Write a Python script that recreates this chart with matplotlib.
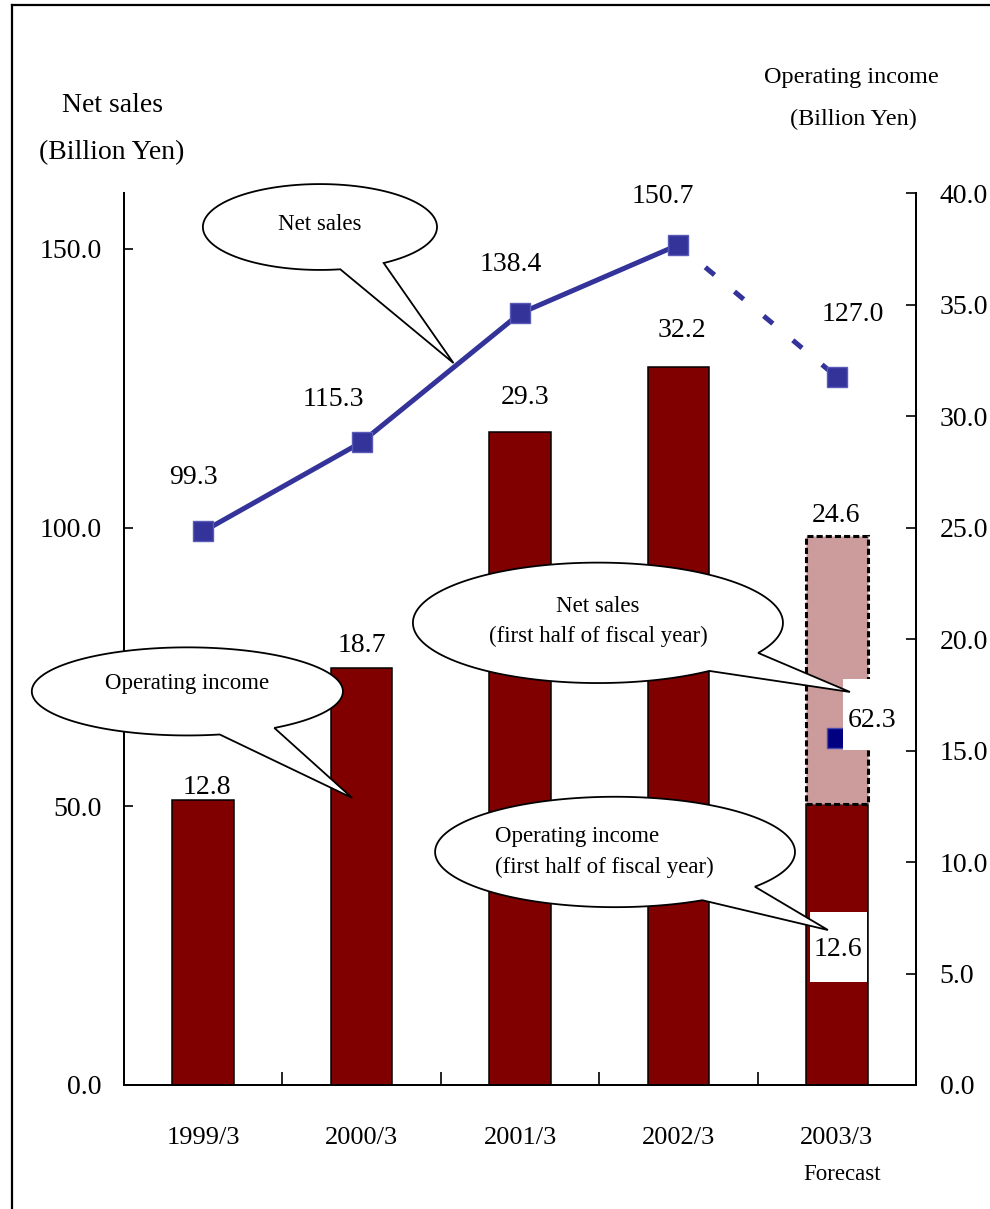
import numpy as np
import matplotlib
matplotlib.use('Agg')
import matplotlib.pyplot as plt
from matplotlib.patches import Polygon, Rectangle
from matplotlib.lines import Line2D

plt.rcParams['font.family'] = 'Liberation Serif'

years = ['1999/3', '2000/3', '2001/3', '2002/3', '2003/3']
net_sales = [99.3, 115.3, 138.4, 150.7, 127.0]      # left axis
op_income = [12.8, 18.7, 29.3, 32.2, 24.6]          # right axis, last one is forecast
half_sales = 62.3                                    # first half of FY2003/3
half_op = 12.6

sales_ticks = [0, 50, 100, 150]
op_ticks = [0, 5, 10, 15, 20, 25, 30, 35, 40]

# label offsets in pixels (dx, dy)
sales_lbl_off = [(-10, 57), (-28, 46), (-9, 52), (-16, 51), (16, 65)]
op_lbl_off = [(4, 15), (0, 25), (5, 37), (3, 39), (-1, 24)]

DARK_RED = '#800000'
PINK = '#cc9c9c'
BLUE = '#333399'
NAVY = '#000080'

fig = plt.figure(figsize=(9.9, 12.09), dpi=100)
ax = fig.add_axes([124 / 990, 1 - 1085 / 1209, 792 / 990, 892 / 1209])
ax2 = ax.twinx()
ax.set_zorder(ax2.get_zorder() + 1)
ax.patch.set_visible(False)

x = np.arange(len(years))
w = 0.39

# operating income bars (right axis)
ax2.bar(x[:4], op_income[:4], width=w, color=DARK_RED, edgecolor='black', linewidth=1.1)
ax2.bar(x[4], half_op, width=w, color=DARK_RED, edgecolor='black', linewidth=1.1)
ax2.bar(x[4], op_income[4] - half_op, bottom=half_op, width=w, color=PINK,
        edgecolor='black', linewidth=2.2, linestyle=(0, (2, 1)))

for i, v in enumerate(op_income):
    ax2.annotate(f'{v:.1f}', (x[i], v), xytext=op_lbl_off[i], textcoords='offset pixels',
                 ha='center', va='center_baseline', fontsize=20)

# net sales line (left axis)
ax.plot(x[:4], net_sales[:4], color=BLUE, lw=3.6, solid_capstyle='butt', zorder=3)
ax.plot(x[3:], net_sales[3:], color=BLUE, lw=3.6, linestyle=(0.6, (2.4, 5.2)),
        dash_capstyle='butt', zorder=3)
ax.plot(x, net_sales, 's', color=BLUE, ms=15, mec='#5a5ab8', mew=1, zorder=4)
for i, v in enumerate(net_sales):
    ax.annotate(f'{v:.1f}', (x[i], v), xytext=sales_lbl_off[i], textcoords='offset pixels',
                ha='center', va='center_baseline', fontsize=20)

ax.plot(x[4], half_sales, 's', color=NAVY, ms=14, mec='#4a4ab0', mew=1, zorder=4)

# white label boxes for the first-half figures
ax.add_patch(Rectangle((4.04, 60.1), 0.365, 12.7, facecolor='white', edgecolor='none', zorder=5))
ax.text(4.222, 66.0, f'{half_sales:.1f}', ha='center', va='center_baseline', fontsize=20, zorder=6)
ax.add_patch(Rectangle((3.83, 18.5), 0.36, 12.5, facecolor='white', edgecolor='none', zorder=5))
ax.text(4.008, 24.9, f'{half_op:.1f}', ha='center', va='center_baseline', fontsize=20, zorder=6)


def bubble(cx, cy, a, b, t1, t2, tip, text, tx=None, ty=None, ha='center'):
    # ellipse outline going the long way round from t2 back to t1, then out to the tip
    th = np.linspace(np.radians(t2), np.radians(t1) + 2 * np.pi, 300)
    pts = np.column_stack([cx + a * np.cos(th), cy + b * np.sin(th)])
    pts = np.vstack([pts, tip])
    ax.add_patch(Polygon(pts, closed=True, facecolor='white', edgecolor='black',
                         lw=1.3, clip_on=False, zorder=7))
    ax.text(cx if tx is None else tx, cy if ty is None else ty, text, ha=ha, va='center',
            multialignment=ha, fontsize=16.5, linespacing=1.55, zorder=8, clip_on=False)


bubble(0.737, 153.9, 0.739, 7.7, -80, -57, (1.58, 129.5), 'Net sales', ty=154.3)
bubble(-0.1, 70.6, 0.982, 7.9, -78, -56, (0.94, 51.5), 'Operating income', ty=72.0)
bubble(2.492, 82.9, 1.168, 10.8, -53, -30, (4.083, 70.5),
       'Net sales\n(first half of fiscal year)', ty=83.1)
bubble(2.60, 41.8, 1.136, 9.9, -61, -39, (3.944, 27.8),
       'Operating income\n(first half of fiscal year)', tx=1.842, ty=41.8, ha='left')

# axes
ax.set_xlim(-0.5, 4.5)
ax.set_ylim(0, 160)
ax2.set_ylim(0, 40)
ax.set_yticks(sales_ticks, [f'{t:.1f}' for t in sales_ticks])
ax2.set_yticks(op_ticks, [f'{t:.1f}' for t in op_ticks])
ax.set_xticks([0.5, 1.5, 2.5, 3.5])
ax.set_xticklabels([])
ax.set_xticks(x, years, minor=True)
ax.tick_params(axis='x', which='major', direction='in', length=9.4, width=1.2)
ax.tick_params(axis='x', which='minor', length=0, pad=30, labelsize=19)
ax.tick_params(axis='y', direction='in', length=6.5, width=1.2, pad=16, labelsize=20)
ax2.tick_params(axis='y', direction='in', length=7, width=1.2, pad=17, labelsize=20)
for a_ in (ax, ax2):
    a_.spines['top'].set_visible(False)
    for s in ('left', 'right', 'bottom'):
        a_.spines[s].set_linewidth(1.4)

ax.annotate('Forecast', (4, 0), xycoords=('data', 'axes fraction'), xytext=(5, -90),
            textcoords='offset pixels', ha='center', va='center', fontsize=16.5)

# axis titles
fig.text(112 / 990, 1 - 105 / 1209, 'Net sales', ha='center', va='center', fontsize=20)
fig.text(112 / 990, 1 - 153 / 1209, '(Billion Yen)', ha='center', va='center', fontsize=20)
fig.text(851 / 990, 1 - 78 / 1209, 'Operating income', ha='center', va='center', fontsize=17.5)
fig.text(853 / 990, 1 - 119 / 1209, '(Billion Yen)', ha='center', va='center', fontsize=17.5)

# outer frame (left and top edges)
fig.add_artist(Line2D([12 / 990, 12 / 990], [0, 1 - 5 / 1209], transform=fig.transFigure,
                      color='black', lw=1.6))
fig.add_artist(Line2D([12 / 990, 1], [1 - 5 / 1209, 1 - 5 / 1209], transform=fig.transFigure,
                      color='black', lw=1.6))

fig.savefig('out.png', dpi=100)
